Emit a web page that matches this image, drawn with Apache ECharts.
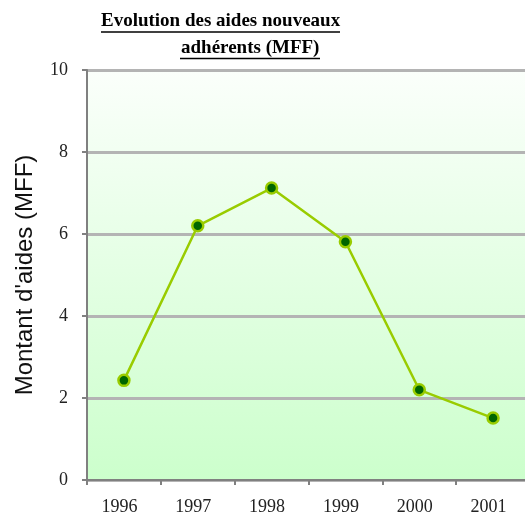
<!DOCTYPE html>
<html><head><meta charset="utf-8">
<script src="https://cdn.jsdelivr.net/npm/echarts@6/dist/echarts.min.js"></script>
<style>html,body{margin:0;padding:0;background:#fff}#c{width:525px;height:519px}</style>
</head><body><div id="c"></div>
<script>
const categories = ['1996','1997','1998','1999','2000','2001'];
const values = [2.43, 6.2, 7.12, 5.81, 2.2, 1.51];
const yTicks = [0, 2, 4, 6, 8, 10];
const titleLines = ['Evolution des aides nouveaux ', 'adhérents (MFF)'];
const yName = "Montant d'aides (MFF)";

const chart = echarts.init(document.getElementById('c'));
chart.setOption({
  animation: false,
  grid: { left: 87, top: 70, right: -5, bottom: 39, containLabel: false, outerBoundsMode: 'none',
    show: true, borderWidth: 0,
    backgroundColor: new echarts.graphic.LinearGradient(0,0,0,1,[{offset:0,color:'#fbfffb'},{offset:1,color:'#ccffcc'}]) },
  xAxis: {
    type: 'category', data: categories, boundaryGap: true,
    axisLine: { lineStyle: { color: '#808080', width: 2 } },
    axisTick: { show: true, length: 5, lineStyle: { color: '#808080', width: 2 } },
    axisLabel: { color: '#222', fontFamily: 'Liberation Serif', fontSize: 18, margin: 18, padding: [0, 9, 0, 0] }
  },
  yAxis: {
    type: 'value', min: yTicks[0], max: yTicks[yTicks.length-1], interval: 2,
    name: yName, nameLocation: 'middle', nameGap: 50, nameRotate: 90,
    nameTextStyle: { fontFamily: 'Liberation Sans', fontSize: 24, color: '#111' },
    axisLine: { show: true, lineStyle: { color: '#808080', width: 2 } },
    axisTick: { show: true, length: 5, lineStyle: { color: '#808080', width: 2 } },
    axisLabel: { color: '#222', fontFamily: 'Liberation Serif', fontSize: 18, margin: 19 },
    splitLine: { show: true, lineStyle: { color: '#b4b4b4', width: 3 } }
  },
  series: [{
    type: 'line', data: values,
    lineStyle: { color: '#99cc00', width: 2.5 },
    symbol: 'circle', symbolSize: 11,
    itemStyle: { color: '#006600', borderColor: '#99cc00', borderWidth: 2.5 }
  }],
  graphic: [
    { type: 'text', x: 101, y: 21, style: { text: titleLines[0], font: 'bold 19px "Liberation Serif"', fill: '#000', verticalAlign: 'middle' } },
    { type: 'line', shape: { x1: 101, y1: 32, x2: 340, y2: 32 }, style: { stroke: '#000', lineWidth: 1.5 } },
    { type: 'text', x: 181, y: 48.5, style: { text: titleLines[1], font: 'bold 19px "Liberation Serif"', fill: '#000', verticalAlign: 'middle' } },
    { type: 'line', shape: { x1: 180, y1: 58.5, x2: 320, y2: 58.5 }, style: { stroke: '#000', lineWidth: 1.5 } }
  ]
});
</script></body></html>
